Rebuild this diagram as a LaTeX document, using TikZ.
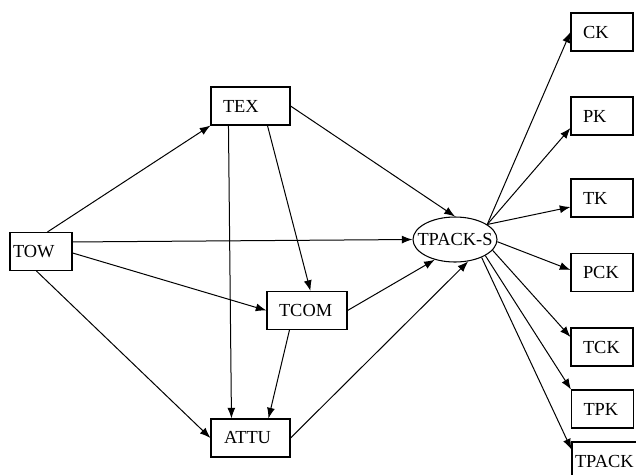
\documentclass[tikz,border=0pt]{standalone}
\usepackage{fontspec}
\setmainfont{Liberation Serif}
\usetikzlibrary{arrows.meta,shapes.geometric}
\begin{document}
\begin{tikzpicture}[x=0.75pt,y=-0.75pt,
  font=\fontsize{13.8pt}{16pt}\selectfont,
  box/.style={draw, line width=0.8pt, rectangle, inner ysep=0pt, minimum height=28.5pt, align=left},
  rbox/.style={box, text width=28.5pt, inner xsep=9pt},
  arr/.style={line width=0.75pt, -{Latex[length=8pt,width=6pt]}}]
\useasboundingbox (0,0) rectangle (636,475);
\node[box, text width=42pt, inner xsep=2.25pt] (tow) at (41,251.5) {TOW};
\node[box, text width=41.25pt, inner xsep=9pt] (tex) at (250.5,106) {TEX};
\node[box, text width=42pt, inner xsep=9pt] (tcom) at (307,310.5) {TCOM};
\node[box, text width=39.75pt, inner xsep=9.75pt] (attu) at (250.5,438) {ATTU};
\node[draw, line width=0.8pt, ellipse, inner sep=0pt, minimum width=63pt, minimum height=33.75pt] (tpacks) at (455,239.5) {\makebox[0pt]{TPACK-S}};
\node[rbox] (ck) at (602,32) {CK};
\node[rbox] (pk) at (602,116) {PK};
\node[rbox] (tk) at (602,198) {TK};
\node[rbox] (pck) at (602,272.5) {PCK};
\node[rbox] (tck) at (602,347) {TCK};
\node[rbox] (tpk) at (602.5,409) {TPK};
\node[box, text width=49.5pt, inner xsep=2.25pt] (tpack) at (608,461) {TPACK};
% connectors
\draw[arr] ([xshift=28.5pt]tow.north west) -- (tex.south west);
\draw[arr] ([yshift=-7.5pt]tow.north east) -- (tpacks.west);
\draw[arr] ([yshift=-15.75pt]tow.north east) -- (tcom.west);
\draw[arr] ([xshift=20.25pt]tow.south west) -- (attu.west);
\draw[arr] ([xshift=42.75pt]tex.south west) -- ([xshift=33pt]tcom.north west);
\draw[arr] ([xshift=13.5pt]tex.south west) -- ([xshift=15.75pt]attu.north west);
\draw[arr] (tex.east) -- (tpacks.north);
\draw[arr] (tcom.east) -- (tpacks.225);
\draw[arr] ([xshift=17.25pt]tcom.south west) -- ([xshift=43.5pt]attu.north west);
\draw[arr] (attu.east) -- (tpacks.301);
\draw[arr] (tpacks.25) -- (ck.west);
\draw[arr] (tpacks.25) -- ([yshift=-9pt]pk.west);
\draw[arr] (tpacks.25) -- ([yshift=-6.75pt]tk.west);
\draw[arr] (tpacks.-3) -- ([yshift=1.9pt]pck.west);
\draw[arr] (tpacks.-16) -- ([yshift=7.5pt]tck.west);
\draw[arr] (tpacks.-28) -- (tpk.north west);
\draw[arr] (tpacks.-34) -- ([yshift=-6pt]tpack.north west);
\end{tikzpicture}
\end{document}
